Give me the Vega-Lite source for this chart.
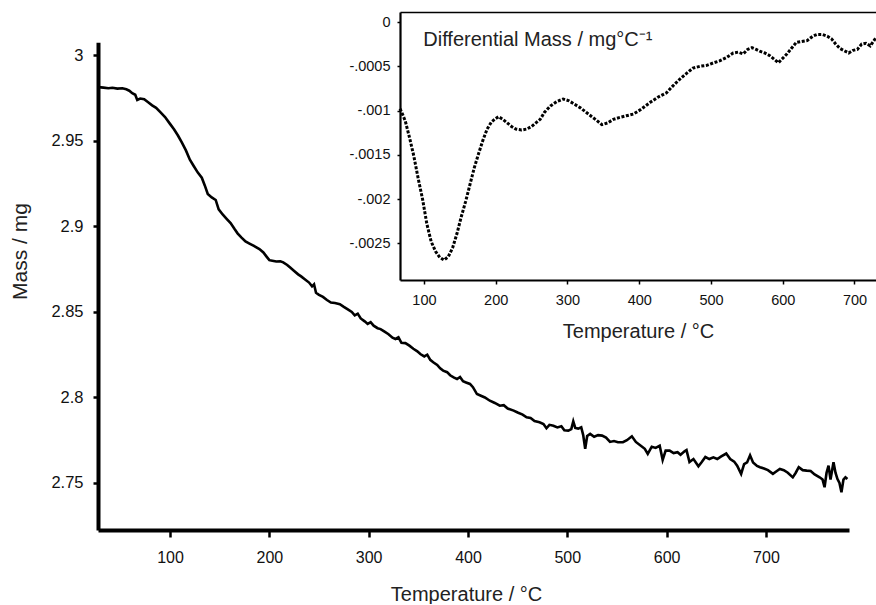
{
  "$schema": "https://vega.github.io/schema/vega-lite/v6.json",
  "background": "white",
  "padding": {"left": 9, "top": 12, "right": 0, "bottom": 0},
  "width": 778,
  "height": 518,
  "config": {
    "view": {"stroke": null},
    "axis": {"grid": false, "domainColor": "black", "tickColor": "black", "labelColor": "#111", "titleColor": "#222", "titleFontWeight": "normal", "titleFont": "Liberation Sans", "labelFont": "Liberation Sans"}
  },
  "datasets": {
    "tg": [
      {"T":28,"M":2.9815},{"T":33,"M":2.9812},{"T":38,"M":2.9808},{"T":42,"M":2.9811},{"T":47,"M":2.9806},{"T":52,"M":2.9808},{"T":56,"M":2.9802},{"T":59,"M":2.9794},{"T":62,"M":2.9779},{"T":65,"M":2.977},{"T":67,"M":2.974},{"T":70,"M":2.9748},{"T":74,"M":2.9744},{"T":78,"M":2.9726},{"T":82,"M":2.9708},{"T":86,"M":2.9694},{"T":90,"M":2.967},{"T":95,"M":2.964},{"T":100,"M":2.96},{"T":104,"M":2.9568},{"T":108,"M":2.9532},{"T":112,"M":2.949},{"T":116,"M":2.9445},{"T":120,"M":2.939},{"T":124,"M":2.9352},{"T":128,"M":2.9315},{"T":132,"M":2.9285},{"T":135,"M":2.924},{"T":138,"M":2.919},{"T":142,"M":2.917},{"T":146,"M":2.9155},{"T":149,"M":2.91},{"T":153,"M":2.907},{"T":157,"M":2.9045},{"T":161,"M":2.902},{"T":165,"M":2.8985},{"T":168,"M":2.896},{"T":172,"M":2.8935},{"T":176,"M":2.8912},{"T":180,"M":2.89},{"T":184,"M":2.8888},{"T":187,"M":2.8878},{"T":190,"M":2.8868},{"T":194,"M":2.8848},{"T":197,"M":2.8825},{"T":200,"M":2.8803},{"T":203,"M":2.88},{"T":207,"M":2.8795},{"T":211,"M":2.8796},{"T":214,"M":2.879},{"T":218,"M":2.8775},{"T":221,"M":2.876},{"T":225,"M":2.874},{"T":229,"M":2.872},{"T":232,"M":2.8708},{"T":236,"M":2.869},{"T":240,"M":2.8672},{"T":243,"M":2.865},{"T":245,"M":2.8662},{"T":247,"M":2.8612},{"T":250,"M":2.86},{"T":254,"M":2.8588},{"T":258,"M":2.857},{"T":262,"M":2.8555},{"T":266,"M":2.8552},{"T":271,"M":2.8546},{"T":275,"M":2.853},{"T":279,"M":2.8515},{"T":283,"M":2.85},{"T":286,"M":2.848},{"T":289,"M":2.849},{"T":292,"M":2.8462},{"T":296,"M":2.8445},{"T":299,"M":2.843},{"T":302,"M":2.844},{"T":305,"M":2.842},{"T":309,"M":2.8405},{"T":312,"M":2.84},{"T":316,"M":2.8385},{"T":320,"M":2.837},{"T":324,"M":2.835},{"T":327,"M":2.8342},{"T":330,"M":2.8352},{"T":333,"M":2.832},{"T":337,"M":2.8318},{"T":341,"M":2.8303},{"T":345,"M":2.8285},{"T":349,"M":2.827},{"T":352,"M":2.8254},{"T":356,"M":2.824},{"T":359,"M":2.825},{"T":362,"M":2.822},{"T":365,"M":2.8206},{"T":369,"M":2.819},{"T":372,"M":2.817},{"T":375,"M":2.8157},{"T":379,"M":2.8148},{"T":382,"M":2.813},{"T":386,"M":2.8116},{"T":389,"M":2.8108},{"T":392,"M":2.812},{"T":395,"M":2.8095},{"T":398,"M":2.8088},{"T":402,"M":2.8079},{"T":405,"M":2.806},{"T":409,"M":2.802},{"T":413,"M":2.801},{"T":417,"M":2.8},{"T":422,"M":2.7981},{"T":427,"M":2.7968},{"T":432,"M":2.7952},{"T":436,"M":2.7955},{"T":440,"M":2.7935},{"T":446,"M":2.7923},{"T":450,"M":2.7912},{"T":455,"M":2.79},{"T":459,"M":2.7884},{"T":463,"M":2.788},{"T":467,"M":2.7862},{"T":472,"M":2.7855},{"T":476,"M":2.7845},{"T":479,"M":2.782},{"T":482,"M":2.784},{"T":486,"M":2.7835},{"T":490,"M":2.7825},{"T":494,"M":2.7832},{"T":497,"M":2.7808},{"T":501,"M":2.7806},{"T":504,"M":2.7815},{"T":506,"M":2.786},{"T":508,"M":2.7822},{"T":511,"M":2.7818},{"T":514,"M":2.7826},{"T":516,"M":2.778},{"T":518,"M":2.77},{"T":520,"M":2.7775},{"T":523,"M":2.7787},{"T":527,"M":2.777},{"T":531,"M":2.778},{"T":535,"M":2.7777},{"T":539,"M":2.7765},{"T":543,"M":2.774},{"T":547,"M":2.7745},{"T":551,"M":2.7738},{"T":556,"M":2.7738},{"T":560,"M":2.775},{"T":565,"M":2.7773},{"T":569,"M":2.774},{"T":574,"M":2.7718},{"T":578,"M":2.77},{"T":581,"M":2.767},{"T":585,"M":2.7712},{"T":589,"M":2.7705},{"T":593,"M":2.7718},{"T":596,"M":2.7635},{"T":599,"M":2.769},{"T":603,"M":2.7689},{"T":607,"M":2.7675},{"T":611,"M":2.768},{"T":614,"M":2.7665},{"T":618,"M":2.7685},{"T":620,"M":2.7692},{"T":623,"M":2.7622},{"T":627,"M":2.764},{"T":632,"M":2.7598},{"T":635,"M":2.762},{"T":639,"M":2.7652},{"T":643,"M":2.764},{"T":647,"M":2.765},{"T":651,"M":2.764},{"T":655,"M":2.7655},{"T":660,"M":2.7672},{"T":664,"M":2.764},{"T":668,"M":2.7625},{"T":671,"M":2.7601},{"T":675,"M":2.7553},{"T":678,"M":2.761},{"T":681,"M":2.762},{"T":684,"M":2.7662},{"T":687,"M":2.762},{"T":691,"M":2.76},{"T":694,"M":2.7592},{"T":698,"M":2.7585},{"T":702,"M":2.7575},{"T":707,"M":2.7553},{"T":711,"M":2.757},{"T":714,"M":2.7582},{"T":718,"M":2.7575},{"T":722,"M":2.756},{"T":727,"M":2.7533},{"T":730,"M":2.756},{"T":733,"M":2.7592},{"T":737,"M":2.7575},{"T":741,"M":2.7572},{"T":745,"M":2.757},{"T":749,"M":2.755},{"T":754,"M":2.7533},{"T":757,"M":2.752},{"T":759,"M":2.7475},{"T":761,"M":2.756},{"T":763,"M":2.7601},{"T":765,"M":2.752},{"T":768,"M":2.7621},{"T":770,"M":2.756},{"T":772,"M":2.7523},{"T":774,"M":2.75},{"T":776,"M":2.7446},{"T":778,"M":2.752},{"T":780,"M":2.7533},{"T":782,"M":2.7523}
    ],
    "dtg": [
      {"T":66.6,"D":-0.00098},{"T":70,"D":-0.00104},{"T":74,"D":-0.00112},{"T":80,"D":-0.00131},{"T":86,"D":-0.00152},{"T":92,"D":-0.00177},{"T":98,"D":-0.002},{"T":104,"D":-0.00228},{"T":110,"D":-0.00248},{"T":116,"D":-0.00259},{"T":122,"D":-0.00266},{"T":128,"D":-0.00269},{"T":134,"D":-0.00265},{"T":140,"D":-0.00255},{"T":146,"D":-0.00239},{"T":152,"D":-0.0022},{"T":158,"D":-0.00203},{"T":164,"D":-0.00184},{"T":170,"D":-0.00165},{"T":176,"D":-0.00149},{"T":182,"D":-0.00134},{"T":188,"D":-0.00121},{"T":194,"D":-0.00113},{"T":200,"D":-0.00109},{"T":204,"D":-0.00107},{"T":210,"D":-0.0011},{"T":216,"D":-0.00114},{"T":222,"D":-0.00118},{"T":228,"D":-0.00121},{"T":236,"D":-0.00122},{"T":243,"D":-0.00121},{"T":250,"D":-0.00118},{"T":256,"D":-0.00114},{"T":262,"D":-0.0011},{"T":268,"D":-0.00102},{"T":276,"D":-0.00095},{"T":285,"D":-0.0009},{"T":294,"D":-0.00087},{"T":302,"D":-0.00089},{"T":310,"D":-0.00093},{"T":318,"D":-0.00097},{"T":326,"D":-0.00102},{"T":334,"D":-0.00107},{"T":342,"D":-0.00112},{"T":348,"D":-0.00116},{"T":356,"D":-0.00114},{"T":364,"D":-0.0011},{"T":372,"D":-0.00108},{"T":382,"D":-0.00106},{"T":392,"D":-0.00104},{"T":402,"D":-0.00099},{"T":415,"D":-0.00091},{"T":426,"D":-0.00085},{"T":438,"D":-0.0008},{"T":446,"D":-0.00073},{"T":456,"D":-0.00065},{"T":466,"D":-0.00058},{"T":475,"D":-0.00052},{"T":485,"D":-0.0005},{"T":494,"D":-0.00049},{"T":504,"D":-0.00046},{"T":512,"D":-0.00044},{"T":522,"D":-0.0004},{"T":531,"D":-0.00035},{"T":538,"D":-0.00034},{"T":545,"D":-0.00036},{"T":551,"D":-0.00031},{"T":557,"D":-0.00029},{"T":563,"D":-0.00031},{"T":568,"D":-0.00033},{"T":575,"D":-0.00035},{"T":582,"D":-0.00038},{"T":588,"D":-0.00042},{"T":594,"D":-0.00046},{"T":600,"D":-0.00041},{"T":606,"D":-0.00036},{"T":612,"D":-0.0003},{"T":619,"D":-0.00023},{"T":626,"D":-0.00022},{"T":634,"D":-0.00021},{"T":642,"D":-0.00016},{"T":648,"D":-0.00014},{"T":655,"D":-0.00014},{"T":662,"D":-0.00016},{"T":668,"D":-0.00019},{"T":674,"D":-0.00025},{"T":680,"D":-0.0003},{"T":687,"D":-0.00033},{"T":692,"D":-0.00035},{"T":698,"D":-0.00032},{"T":704,"D":-0.00031},{"T":710,"D":-0.00025},{"T":716,"D":-0.00024},{"T":722,"D":-0.00027},{"T":728,"D":-0.0002},{"T":730,"D":-0.00018}
    ]
  },
  "layer": [
    {
      "data": {"name": "tg"},
      "mark": {"type": "line", "color": "black", "strokeWidth": 2.6},
      "encoding": {
        "x": {"field": "T", "type": "quantitative",
          "scale": {"domain": [27.5, 783.6], "range": [0, 751], "nice": false, "zero": false},
          "axis": {"orient": "bottom", "values": [100,200,300,400,500,600,700], "format": "d", "domainWidth": 4, "tickSize": 7, "tickWidth": 2.5, "labelFontSize": 16, "labelPadding": 12, "title": "Temperature / °C", "titleFontSize": 20, "titleX": 368, "titleY": 70, "titleBaseline": "alphabetic", "titleAlign": "center"}},
        "y": {"field": "M", "type": "quantitative",
          "scale": {"domain": [2.7225, 3.0077], "range": [518, 30.3], "nice": false, "zero": false},
          "axis": {"orient": "left", "values": [2.75,2.8,2.85,2.9,2.95,3], "format": ".3~f", "domainWidth": 4, "tickSize": 5, "tickWidth": 2.5, "labelFontSize": 16.5, "labelPadding": 10, "title": "Mass / mg", "titleFontSize": 21, "titleX": -78, "titleY": 239, "titleAngle": -90, "titleAlign": "center", "titleBaseline": "middle"}}
      }
    },
    {
      "resolve": {"axis": {"x": "independent"}},
      "layer": [
        {
          "data": {"name": "dtg"},
          "mark": {"type": "line", "color": "black", "strokeWidth": 3, "strokeDash": [3, 1.6]},
          "encoding": {
            "x": {"field": "T", "type": "quantitative",
              "scale": {"domain": [66.6, 730], "range": [302, 778], "nice": false, "zero": false},
              "axis": {"orient": "bottom", "offset": -250, "values": [100,200,300,400,500,600,700], "format": "d", "domainWidth": 2.2, "tickSize": 4, "tickWidth": 1.5, "labelFontSize": 14.5, "labelPadding": 9, "title": "Temperature / °C", "titleFontSize": 20, "titleX": 540, "titleY": 57, "titleBaseline": "alphabetic", "titleAlign": "center"}},
            "y": {"field": "D", "type": "quantitative",
              "scale": {"domain": [-0.002915, 0.000113], "range": [268, 0], "nice": false, "zero": false},
              "axis": {"orient": "left", "offset": -302, "values": [0,-0.0005,-0.001,-0.0015,-0.002,-0.0025], "labelExpr": "datum.value == 0 ? '0' : '-' + replace(format(-datum.value, '.4~f'), '0.', '.')", "domainWidth": 2.2, "tickSize": 3, "tickWidth": 1.5, "labelFontSize": 14.5, "labelPadding": 7, "title": null}}
          }
        },
        {
          "data": {"values": [{"label": "Differential Mass / mg°C⁻¹"}]},
          "mark": {"type": "text", "align": "left", "baseline": "alphabetic", "font": "Liberation Sans", "fontSize": 20, "color": "#222"},
          "encoding": {
            "x": {"datum": 99, "type": "quantitative", "axis": {"orient": "top", "labels": false, "ticks": false, "title": null, "domainWidth": 1.5}},
            "y": {"datum": -0.000271, "type": "quantitative"},
            "text": {"field": "label"}
          }
        }
      ]
    }
  ],
  "resolve": {"scale": {"x": "independent", "y": "independent"}, "axis": {"x": "independent", "y": "independent"}}
}
